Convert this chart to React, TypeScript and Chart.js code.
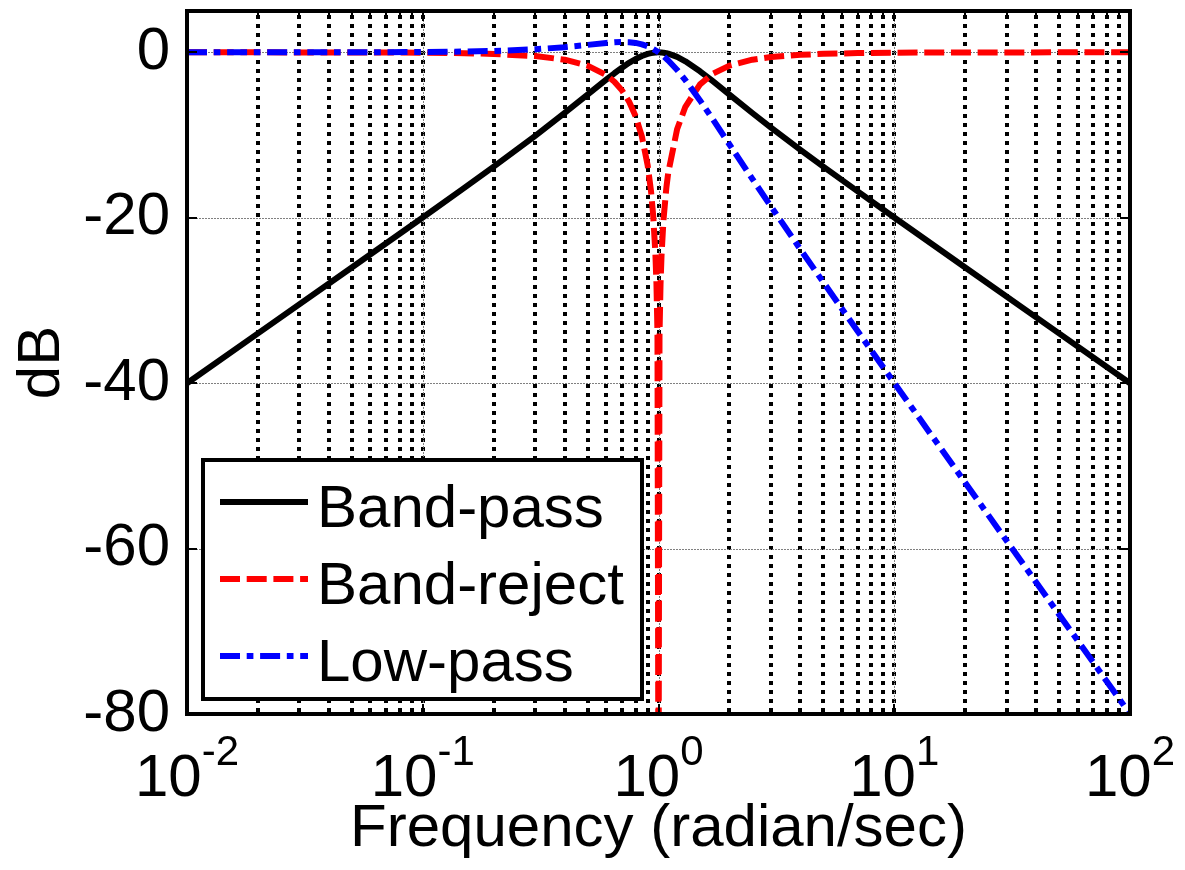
import React, { useEffect, useRef } from "react";
import { Chart, registerables } from "chart.js";

Chart.register(...registerables);

// ---- data ----
const frequencies = [
  0.01, 0.02, 0.05, 0.1, 0.15, 0.2, 0.3, 0.4, 0.5, 0.6,
  0.65, 0.7, 0.75, 0.8, 0.85, 0.9, 0.93, 0.95, 0.97, 0.98,
  0.99, 1.0, 1.01, 1.02, 1.03, 1.05, 1.08, 1.1, 1.2, 1.3,
  1.5, 1.7, 2, 2.5, 3, 4, 5, 7, 10, 20,
  50, 100,
];
const bandPassDb = [
  -40, -33.98, -26.01, -19.96, -16.38, -13.81, -10.09, -7.33, -5.12, -3.3,
  -2.53, -1.85, -1.27, -0.8, -0.44, -0.19, -0.09, -0.05, -0.02, -0.01,
  0, 0, 0, -0.01, -0.02, -0.04, -0.1, -0.16, -0.55, -1.08,
  -2.29, -3.49, -5.12, -7.33, -9.09, -11.78, -13.81, -16.81, -19.96, -26.01,
  -33.98, -40,
];
const bandRejectDb = [
  0, 0, -0.01, -0.04, -0.1, -0.19, -0.45, -0.89, -1.6, -2.74,
  -3.55, -4.6, -5.95, -7.74, -10.16, -13.7, -16.85, -19.82, -24.32, -27.88,
  -33.94, -95, -34.02, -28.05, -24.58, -20.25, -16.35, -14.54, -9.26, -6.58,
  -3.87, -2.58, -1.6, -0.89, -0.57, -0.3, -0.18, -0.09, -0.04, -0.01,
  0, 0,
];
const lowPassDb = [
  0, 0, 0.01, 0.04, 0.1, 0.17, 0.37, 0.63, 0.9, 1.14,
  1.22, 1.25, 1.23, 1.14, 0.97, 0.73, 0.54, 0.4, 0.25, 0.17,
  0.09, 0, -0.09, -0.18, -0.27, -0.47, -0.77, -0.98, -2.13, -3.36,
  -5.81, -8.1, -11.14, -15.29, -18.63, -23.82, -27.79, -33.72, -39.96, -52.03,
  -67.96, -80,
];
const seriesLabels = ["Band-pass", "Band-reject", "Low-pass"];
const xMajorTicks = [0.01, 0.1, 1, 10, 100];
const xTickBase = "10";
const xTickExponents = ["-2", "-1", "0", "1", "2"];
const xMinorMantissas = [2, 3, 4, 5, 6, 7, 8, 9];
const yTicks = [-80, -60, -40, -20, 0];
const yTickLabels = ["-80", "-60", "-40", "-20", "0"];
const xTitle = "Frequency (radian/sec)";
const yTitle = "dB";

const FONT = "'Liberation Sans', Arial, Helvetica, sans-serif";

const matlabPlugin = {
  id: "matlabAxes",
  beforeDatasetsDraw(chart: any) {
    const { ctx, chartArea: a, scales } = chart;
    const xs = scales.x;
    const ys = scales.y;
    ctx.save();
    // black dotted vertical grid (all decades, mantissa 1..9)
    ctx.strokeStyle = "#000";
    ctx.lineWidth = 4;
    ctx.lineCap = "butt";
    ctx.setLineDash([4, 5]);
    for (const base of xMajorTicks) {
      for (const m of [1, ...xMinorMantissas]) {
        const v = base * m;
        if (v <= xs.min * 1.0001 || v >= xs.max * 0.9999) continue;
        const px = Math.round(xs.getPixelForValue(v));
        ctx.beginPath();
        ctx.moveTo(px, Math.round(a.bottom) - 2);
        ctx.lineTo(px, a.top);
        ctx.stroke();
      }
    }
    // thin gray major grid
    ctx.setLineDash([2, 1]);
    ctx.strokeStyle = "#808080";
    ctx.lineWidth = 1;
    for (const v of xMajorTicks) {
      if (v <= xs.min * 1.0001 || v >= xs.max * 0.9999) continue;
      const px = Math.round(xs.getPixelForValue(v)) + 0.5;
      ctx.beginPath();
      ctx.moveTo(px, a.top);
      ctx.lineTo(px, a.bottom);
      ctx.stroke();
    }
    for (const v of yTicks) {
      if (v <= ys.min || v >= ys.max) continue;
      const py = Math.round(ys.getPixelForValue(v)) + 0.5;
      ctx.beginPath();
      ctx.moveTo(a.left, py);
      ctx.lineTo(a.right, py);
      ctx.stroke();
    }
    ctx.restore();
  },
  afterDatasetsDraw(chart: any) {
    const { ctx, chartArea: a, scales } = chart;
    const xs = scales.x;
    const ys = scales.y;
    ctx.save();
    ctx.setLineDash([]);
    ctx.strokeStyle = "#000";
    ctx.lineWidth = 2;
    // inward ticks on x (top & bottom)
    for (const base of xMajorTicks) {
      for (const m of [1, ...xMinorMantissas]) {
        const v = base * m;
        if (v < xs.min * 0.9999 || v > xs.max * 1.0001) continue;
        const px = Math.round(xs.getPixelForValue(v));
        const len = m === 1 ? 10 : 5;
        ctx.beginPath();
        ctx.moveTo(px, a.bottom);
        ctx.lineTo(px, a.bottom - len);
        ctx.moveTo(px, a.top);
        ctx.lineTo(px, a.top + len);
        ctx.stroke();
      }
    }
    for (const v of yTicks) {
      const py = Math.round(ys.getPixelForValue(v));
      ctx.beginPath();
      ctx.moveTo(a.left, py);
      ctx.lineTo(a.left + 10, py);
      ctx.moveTo(a.right, py);
      ctx.lineTo(a.right - 10, py);
      ctx.stroke();
    }
    // frame
    ctx.lineWidth = 4;
    ctx.lineJoin = "miter";
    ctx.strokeRect(a.left, a.top, a.right - a.left, a.bottom - a.top);

    // legend box inside the plot (lower-left)
    const bx = a.left + 16;
    const by = a.bottom - 15 - 239;
    const bw = 439;
    const bh = 239;
    ctx.fillStyle = "#fff";
    ctx.fillRect(bx, by, bw, bh);
    ctx.lineWidth = 4;
    ctx.strokeRect(bx, by, bw, bh);
    ctx.font = `60px ${FONT}`;
    ctx.textAlign = "left";
    ctx.textBaseline = "alphabetic";
    chart.data.datasets.forEach((ds: any, i: number) => {
      const base = by + 67 + i * 77;
      const ly = base - 25;
      ctx.save();
      ctx.strokeStyle = ds.borderColor;
      ctx.lineWidth = 6;
      ctx.setLineDash(ds.borderDash || []);
      ctx.beginPath();
      ctx.moveTo(bx + 17, ly);
      ctx.lineTo(bx + 105, ly);
      ctx.stroke();
      ctx.restore();
      ctx.fillStyle = "#000";
      ctx.fillText(ds.label, bx + 114, base);
    });
    ctx.restore();
  },
  afterDraw(chart: any) {
    const { ctx, scales } = chart;
    const xs = scales.x;
    ctx.save();
    ctx.fillStyle = "#000";
    ctx.textBaseline = "alphabetic";
    ctx.textAlign = "left";
    xMajorTicks.forEach((v, i) => {
      const px = xs.getPixelForValue(v);
      ctx.font = `60px ${FONT}`;
      const wBase = ctx.measureText(xTickBase).width;
      ctx.font = `42px ${FONT}`;
      const wExp = ctx.measureText(xTickExponents[i]).width;
      const start = px - (wBase + wExp) / 2;
      ctx.font = `60px ${FONT}`;
      ctx.fillText(xTickBase, start, 796);
      ctx.font = `42px ${FONT}`;
      ctx.fillText(xTickExponents[i], start + wBase, 765);
    });
    ctx.restore();
  },
};

export default function App() {
  const canvasRef = useRef<HTMLCanvasElement | null>(null);

  useEffect(() => {
    if (!canvasRef.current) return;
    const mk = (ys: number[]) => frequencies.map((f, i) => ({ x: f, y: ys[i] }));
    const chart = new Chart(canvasRef.current, {
      type: "line",
      data: {
        datasets: [
          {
            label: seriesLabels[0],
            data: mk(bandPassDb),
            borderColor: "#000000",
            borderWidth: 6,
            borderDash: [],
            borderJoinStyle: "round",
            pointRadius: 0,
            order: 3,
          },
          {
            label: seriesLabels[1],
            data: mk(bandRejectDb),
            borderColor: "#ff0000",
            borderWidth: 6,
            borderDash: [20, 6.7],
            borderJoinStyle: "round",
            pointRadius: 0,
            order: 2,
          },
          {
            label: seriesLabels[2],
            data: mk(lowPassDb),
            borderColor: "#0000ff",
            borderWidth: 6,
            borderDash: [20, 6.7, 6.7, 6.7],
            borderJoinStyle: "round",
            pointRadius: 0,
            order: 1,
          },
        ],
      },
      options: {
        animation: false,
        responsive: false,
        devicePixelRatio: 1,
        layout: { padding: { top: 11, right: 55, left: 0, bottom: 0 } },
        plugins: { legend: { display: false }, tooltip: { enabled: false } },
        elements: { line: { tension: 0 }, point: { radius: 0 } },
        scales: {
          x: {
            type: "logarithmic",
            min: 0.01,
            max: 100,
            grid: { display: false },
            border: { display: false },
            ticks: { display: false },
            afterBuildTicks: (s: any) => {
              s.ticks = xMajorTicks.map((v) => ({ value: v }));
            },
            afterFit: (s: any) => {
              s.height = 156;
              s.paddingLeft = 0;
              s.paddingRight = 0;
              s.paddingTop = 0;
              s.paddingBottom = 0;
            },
            title: {
              display: true,
              text: xTitle,
              color: "#000",
              font: { size: 60, family: FONT },
              padding: { top: 0, bottom: 5 },
            },
          },
          y: {
            type: "linear",
            min: -80,
            max: 5,
            grid: { display: false },
            border: { display: false },
            ticks: {
              color: "#000",
              font: { size: 60, family: FONT },
              padding: 9,
              autoSkip: false,
              callback: (value: any) => {
                const idx = yTicks.indexOf(Number(value));
                return idx >= 0 ? yTickLabels[idx] : "";
              },
            },
            afterBuildTicks: (s: any) => {
              s.ticks = yTicks.map((v) => ({ value: v }));
            },
            afterFit: (s: any) => {
              s.width = 187;
              s.paddingLeft = 0;
              s.paddingRight = 0;
              s.paddingTop = 0;
              s.paddingBottom = 0;
            },
            title: {
              display: true,
              text: yTitle,
              color: "#000",
              font: { size: 60, family: FONT },
              padding: { top: 6, bottom: 0 },
            },
          },
        },
      } as any,
      plugins: [matlabPlugin],
    });
    return () => chart.destroy();
  }, []);

  return (
    <div
      style={{
        position: "fixed",
        left: 0,
        top: 0,
        width: 1185,
        height: 870,
        background: "#fff",
      }}
    >
      <canvas ref={canvasRef} width={1185} height={870} />
    </div>
  );
}
